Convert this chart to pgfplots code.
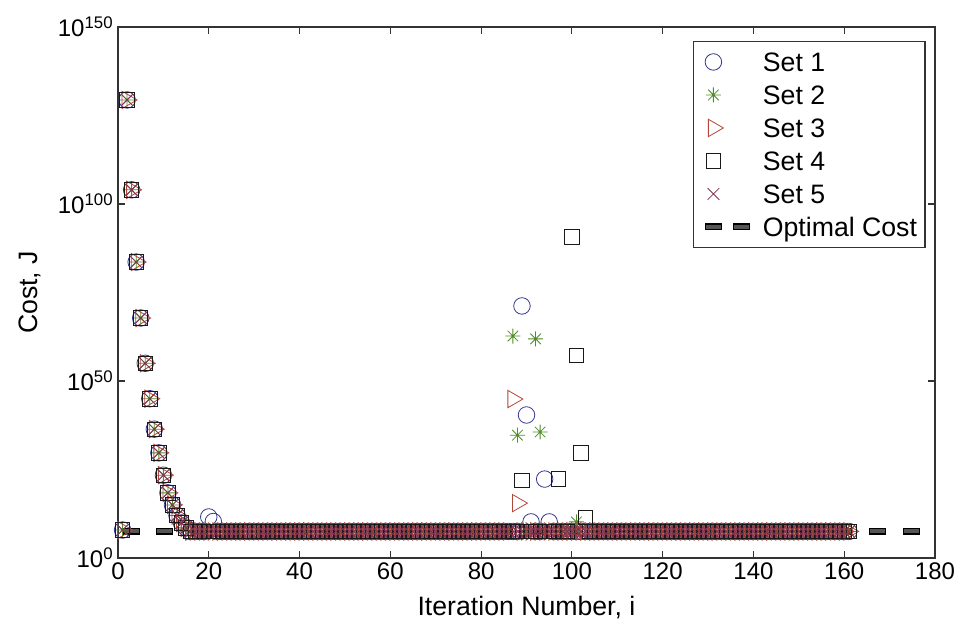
\documentclass[border=0pt]{standalone}
\usepackage{fontspec}
\setmainfont{Liberation Sans}
\usepackage{pgfplots}
\usepackage{pgfplotstable}
\pgfplotsset{compat=1.18}
\definecolor{cA}{RGB}{52,52,140}
\definecolor{cB}{RGB}{80,140,40}
\definecolor{cC}{RGB}{180,70,55}
\definecolor{cD}{RGB}{25,25,25}
\definecolor{cE}{RGB}{130,50,85}
\definecolor{optgray}{RGB}{85,85,85}
\pgfdeclareplotmark{mlstar}{%
 \pgfpathmoveto{\pgfqpoint{-\pgfplotmarksize}{0pt}}\pgfpathlineto{\pgfqpoint{\pgfplotmarksize}{0pt}}%
 \pgfpathmoveto{\pgfqpoint{0pt}{-\pgfplotmarksize}}\pgfpathlineto{\pgfqpoint{0pt}{\pgfplotmarksize}}%
 \pgfpathmoveto{\pgfqpoint{-.7071\pgfplotmarksize}{-.7071\pgfplotmarksize}}\pgfpathlineto{\pgfqpoint{.7071\pgfplotmarksize}{.7071\pgfplotmarksize}}%
 \pgfpathmoveto{\pgfqpoint{-.7071\pgfplotmarksize}{.7071\pgfplotmarksize}}\pgfpathlineto{\pgfqpoint{.7071\pgfplotmarksize}{-.7071\pgfplotmarksize}}%
 \pgfusepathqstroke}
\pgfplotsset{mlmark/.style={only marks, line width=0.6pt,
  legend image code/.code={\path (0pt,0pt) (34pt,0pt); \draw[mark repeat=2,mark phase=2,##1] plot coordinates {(0pt,0pt) (6pt,0pt) (12pt,0pt)};}}}

\pgfplotstableread{
x s1 s2 s3 s4 s5
1 8e7 8e7 8e7 8e7 8e7
2 2.5e129 2.5e129 2.5e129 2.5e129 2.5e129
3 1e104 1e104 1e104 1e104 1e104
4 4e83 4e83 4e83 4e83 4e83
5 6.3e67 6.3e67 6.3e67 6.3e67 6.3e67
6 1e55 1e55 1e55 1e55 1e55
7 1e45 1e45 1e45 1e45 1e45
8 2.5e36 2.5e36 2.5e36 2.5e36 2.5e36
9 5e29 5e29 5e29 5e29 5e29
10 2.5e23 2.5e23 2.5e23 2.5e23 2.5e23
11 2.5e18 2.5e18 2.5e18 2.5e18 2.5e18
12 1e15 1e15 1e15 1e15 1e15
13 1e12 1e12 1e12 1e12 1e12
14 8e9 8e9 8e9 8e9 8e9
15 3.2e8 3.2e8 3.2e8 3.2e8 3.2e8
16 3.2e7 3.2e7 3.2e7 3.2e7 3.2e7
17 3.2e7 3.2e7 3.2e7 3.2e7 3.2e7
18 3.2e7 3.2e7 3.2e7 3.2e7 3.2e7
19 3.2e7 3.2e7 3.2e7 3.2e7 3.2e7
20 4e11 3.2e7 3.2e7 3.2e7 3.2e7
21 2e10 3.2e7 3.2e7 3.2e7 3.2e7
22 3.2e7 3.2e7 3.2e7 3.2e7 3.2e7
23 3.2e7 3.2e7 3.2e7 3.2e7 3.2e7
24 3.2e7 3.2e7 3.2e7 3.2e7 3.2e7
25 3.2e7 3.2e7 3.2e7 3.2e7 3.2e7
26 3.2e7 3.2e7 3.2e7 3.2e7 3.2e7
27 3.2e7 3.2e7 3.2e7 3.2e7 3.2e7
28 3.2e7 3.2e7 3.2e7 3.2e7 3.2e7
29 3.2e7 3.2e7 3.2e7 3.2e7 3.2e7
30 3.2e7 3.2e7 3.2e7 3.2e7 3.2e7
31 3.2e7 3.2e7 3.2e7 3.2e7 3.2e7
32 3.2e7 3.2e7 3.2e7 3.2e7 3.2e7
33 3.2e7 3.2e7 3.2e7 3.2e7 3.2e7
34 3.2e7 3.2e7 3.2e7 3.2e7 3.2e7
35 3.2e7 3.2e7 3.2e7 3.2e7 3.2e7
36 3.2e7 3.2e7 3.2e7 3.2e7 3.2e7
37 3.2e7 3.2e7 3.2e7 3.2e7 3.2e7
38 3.2e7 3.2e7 3.2e7 3.2e7 3.2e7
39 3.2e7 3.2e7 3.2e7 3.2e7 3.2e7
40 3.2e7 3.2e7 3.2e7 3.2e7 3.2e7
41 3.2e7 3.2e7 3.2e7 3.2e7 3.2e7
42 3.2e7 3.2e7 3.2e7 3.2e7 3.2e7
43 3.2e7 3.2e7 3.2e7 3.2e7 3.2e7
44 3.2e7 3.2e7 3.2e7 3.2e7 3.2e7
45 3.2e7 3.2e7 3.2e7 3.2e7 3.2e7
46 3.2e7 3.2e7 3.2e7 3.2e7 3.2e7
47 3.2e7 3.2e7 3.2e7 3.2e7 3.2e7
48 3.2e7 3.2e7 3.2e7 3.2e7 3.2e7
49 3.2e7 3.2e7 3.2e7 3.2e7 3.2e7
50 3.2e7 3.2e7 3.2e7 3.2e7 3.2e7
51 3.2e7 3.2e7 3.2e7 3.2e7 3.2e7
52 3.2e7 3.2e7 3.2e7 3.2e7 3.2e7
53 3.2e7 3.2e7 3.2e7 3.2e7 3.2e7
54 3.2e7 3.2e7 3.2e7 3.2e7 3.2e7
55 3.2e7 3.2e7 3.2e7 3.2e7 3.2e7
56 3.2e7 3.2e7 3.2e7 3.2e7 3.2e7
57 3.2e7 3.2e7 3.2e7 3.2e7 3.2e7
58 3.2e7 3.2e7 3.2e7 3.2e7 3.2e7
59 3.2e7 3.2e7 3.2e7 3.2e7 3.2e7
60 3.2e7 3.2e7 3.2e7 3.2e7 3.2e7
61 3.2e7 3.2e7 3.2e7 3.2e7 3.2e7
62 3.2e7 3.2e7 3.2e7 3.2e7 3.2e7
63 3.2e7 3.2e7 3.2e7 3.2e7 3.2e7
64 3.2e7 3.2e7 3.2e7 3.2e7 3.2e7
65 3.2e7 3.2e7 3.2e7 3.2e7 3.2e7
66 3.2e7 3.2e7 3.2e7 3.2e7 3.2e7
67 3.2e7 3.2e7 3.2e7 3.2e7 3.2e7
68 3.2e7 3.2e7 3.2e7 3.2e7 3.2e7
69 3.2e7 3.2e7 3.2e7 3.2e7 3.2e7
70 3.2e7 3.2e7 3.2e7 3.2e7 3.2e7
71 3.2e7 3.2e7 3.2e7 3.2e7 3.2e7
72 3.2e7 3.2e7 3.2e7 3.2e7 3.2e7
73 3.2e7 3.2e7 3.2e7 3.2e7 3.2e7
74 3.2e7 3.2e7 3.2e7 3.2e7 3.2e7
75 3.2e7 3.2e7 3.2e7 3.2e7 3.2e7
76 3.2e7 3.2e7 3.2e7 3.2e7 3.2e7
77 3.2e7 3.2e7 3.2e7 3.2e7 3.2e7
78 3.2e7 3.2e7 3.2e7 3.2e7 3.2e7
79 3.2e7 3.2e7 3.2e7 3.2e7 3.2e7
80 3.2e7 3.2e7 3.2e7 3.2e7 3.2e7
81 3.2e7 3.2e7 3.2e7 3.2e7 3.2e7
82 3.2e7 3.2e7 3.2e7 3.2e7 3.2e7
83 3.2e7 3.2e7 3.2e7 3.2e7 3.2e7
84 3.2e7 3.2e7 3.2e7 3.2e7 3.2e7
85 3.2e7 3.2e7 3.2e7 3.2e7 3.2e7
86 3.2e7 3.2e7 3.2e7 3.2e7 3.2e7
87 3.2e7 5e62 8e44 3.2e7 3.2e7
88 3.2e7 5e34 3.2e15 3.2e7 3.2e7
89 1.6e71 3.2e7 3.2e7 1e22 3.2e7
90 2.5e40 3.2e7 3.2e7 3.2e7 3.2e7
91 1.6e10 3.2e7 3.2e7 3.2e7 3.2e7
92 3.2e7 8e61 3.2e7 3.2e7 3.2e7
93 3.2e7 4e35 3.2e7 3.2e7 3.2e7
94 2e22 3.2e7 3.2e7 3.2e7 3.2e7
95 1.6e10 3.2e7 3.2e7 3.2e7 3.2e7
96 3.2e7 3.2e7 3.2e7 3.2e7 3.2e7
97 3.2e7 3.2e7 3.2e7 2e22 3.2e7
98 3.2e7 3.2e7 3.2e7 3.2e7 3.2e7
99 3.2e7 3.2e7 3.2e7 3.2e7 3.2e7
100 3.2e7 3.2e7 3.2e7 5e90 3.2e7
101 3.2e7 1.6e10 3.2e7 2e57 3.2e7
102 3.2e7 3.2e7 3.2e7 5e29 3.2e7
103 3.2e7 3.2e7 3.2e7 3.2e11 3.2e7
104 3.2e7 3.2e7 3.2e7 3.2e7 3.2e7
105 3.2e7 3.2e7 3.2e7 3.2e7 3.2e7
106 3.2e7 3.2e7 3.2e7 3.2e7 3.2e7
107 3.2e7 3.2e7 3.2e7 3.2e7 3.2e7
108 3.2e7 3.2e7 3.2e7 3.2e7 3.2e7
109 3.2e7 3.2e7 3.2e7 3.2e7 3.2e7
110 3.2e7 3.2e7 3.2e7 3.2e7 3.2e7
111 3.2e7 3.2e7 3.2e7 3.2e7 3.2e7
112 3.2e7 3.2e7 3.2e7 3.2e7 3.2e7
113 3.2e7 3.2e7 3.2e7 3.2e7 3.2e7
114 3.2e7 3.2e7 3.2e7 3.2e7 3.2e7
115 3.2e7 3.2e7 3.2e7 3.2e7 3.2e7
116 3.2e7 3.2e7 3.2e7 3.2e7 3.2e7
117 3.2e7 3.2e7 3.2e7 3.2e7 3.2e7
118 3.2e7 3.2e7 3.2e7 3.2e7 3.2e7
119 3.2e7 3.2e7 3.2e7 3.2e7 3.2e7
120 3.2e7 3.2e7 3.2e7 3.2e7 3.2e7
121 3.2e7 3.2e7 3.2e7 3.2e7 3.2e7
122 3.2e7 3.2e7 3.2e7 3.2e7 3.2e7
123 3.2e7 3.2e7 3.2e7 3.2e7 3.2e7
124 3.2e7 3.2e7 3.2e7 3.2e7 3.2e7
125 3.2e7 3.2e7 3.2e7 3.2e7 3.2e7
126 3.2e7 3.2e7 3.2e7 3.2e7 3.2e7
127 3.2e7 3.2e7 3.2e7 3.2e7 3.2e7
128 3.2e7 3.2e7 3.2e7 3.2e7 3.2e7
129 3.2e7 3.2e7 3.2e7 3.2e7 3.2e7
130 3.2e7 3.2e7 3.2e7 3.2e7 3.2e7
131 3.2e7 3.2e7 3.2e7 3.2e7 3.2e7
132 3.2e7 3.2e7 3.2e7 3.2e7 3.2e7
133 3.2e7 3.2e7 3.2e7 3.2e7 3.2e7
134 3.2e7 3.2e7 3.2e7 3.2e7 3.2e7
135 3.2e7 3.2e7 3.2e7 3.2e7 3.2e7
136 3.2e7 3.2e7 3.2e7 3.2e7 3.2e7
137 3.2e7 3.2e7 3.2e7 3.2e7 3.2e7
138 3.2e7 3.2e7 3.2e7 3.2e7 3.2e7
139 3.2e7 3.2e7 3.2e7 3.2e7 3.2e7
140 3.2e7 3.2e7 3.2e7 3.2e7 3.2e7
141 3.2e7 3.2e7 3.2e7 3.2e7 3.2e7
142 3.2e7 3.2e7 3.2e7 3.2e7 3.2e7
143 3.2e7 3.2e7 3.2e7 3.2e7 3.2e7
144 3.2e7 3.2e7 3.2e7 3.2e7 3.2e7
145 3.2e7 3.2e7 3.2e7 3.2e7 3.2e7
146 3.2e7 3.2e7 3.2e7 3.2e7 3.2e7
147 3.2e7 3.2e7 3.2e7 3.2e7 3.2e7
148 3.2e7 3.2e7 3.2e7 3.2e7 3.2e7
149 3.2e7 3.2e7 3.2e7 3.2e7 3.2e7
150 3.2e7 3.2e7 3.2e7 3.2e7 3.2e7
151 3.2e7 3.2e7 3.2e7 3.2e7 3.2e7
152 3.2e7 3.2e7 3.2e7 3.2e7 3.2e7
153 3.2e7 3.2e7 3.2e7 3.2e7 3.2e7
154 3.2e7 3.2e7 3.2e7 3.2e7 3.2e7
155 3.2e7 3.2e7 3.2e7 3.2e7 3.2e7
156 3.2e7 3.2e7 3.2e7 3.2e7 3.2e7
157 3.2e7 3.2e7 3.2e7 3.2e7 3.2e7
158 3.2e7 3.2e7 3.2e7 3.2e7 3.2e7
159 3.2e7 3.2e7 3.2e7 3.2e7 3.2e7
160 3.2e7 3.2e7 3.2e7 3.2e7 3.2e7
161 3.2e7 3.2e7 3.2e7 3.2e7 3.2e7
}\costdata

\begin{document}
\begin{tikzpicture}
\useasboundingbox (-88.5pt,-48pt) rectangle (633pt,418.5pt);
\begin{axis}[
  scale only axis, width=612.75pt, height=398.25pt,
  ymode=log, xmin=0, xmax=180, ymin=1, ymax=1e150,
  xtick={0,20,...,180},
  ytick={1,1e50,1e100,1e150},
  yticklabels={10\textsuperscript{0},10\textsuperscript{50},10\textsuperscript{100},10\textsuperscript{150}},
  minor ytick={},
  tick align=inside, tick pos=both, major tick length=5.25pt,
  axis line style={draw=black!80, line width=0.9pt},
  tick style={draw=black!80, line width=0.9pt},
  font=\fontsize{20}{24}\selectfont,
  tick label style={font=\fontsize{18}{21.6}\selectfont},
  /pgf/number format/assume math mode=true,
  xlabel={Iteration Number, i}, ylabel={Cost, J},
  every axis x label/.style={at={(axis description cs:0.5,-0.1092)}, anchor=base},
  every axis y label/.style={at={(axis description cs:-0.0991,0.5)}, rotate=90, anchor=base},
  legend cell align=left,
  legend style={at={(0.9885,0.9736)}, anchor=north east, draw=black!80, line width=0.9pt,
    font=\fontsize{20}{24}\selectfont, inner xsep=6pt, inner ysep=6pt,
    nodes={inner xsep=0pt, inner ysep=0pt, text height=16.5pt, text depth=2pt},
    row sep=6.25pt, column sep=6.75pt},
]
\addplot[mlmark, mark=o, mark size=6.2pt, color=cA] table[x=x, y=s1] {\costdata};
\addlegendentry{Set 1}
\addplot[mlmark, mark=mlstar, mark size=5.6pt, color=cB] table[x=x, y=s2] {\costdata};
\addlegendentry{Set 2}
\addplot[mlmark, mark=triangle, mark size=7.5pt, mark options={rotate=-90}, color=cC] table[x=x, y=s3] {\costdata};
\addlegendentry{Set 3}
\addplot[mlmark, mark=square, mark size=5.4pt, color=cD] table[x=x, y=s4] {\costdata};
\addlegendentry{Set 4}
\addplot[mlmark, mark=x, mark size=6.2pt, color=cE] table[x=x, y=s5] {\costdata};
\addlegendentry{Set 5}
\addplot[black, line width=5.25pt, dash pattern=on 12.75pt off 12.7pt,
  legend image code/.code={\draw[black,line width=5.25pt,dash pattern=on 12.75pt off 8.25pt] (0pt,0pt)--(33.75pt,0pt);
    \draw[optgray,line width=3pt,dash pattern=on 11.25pt off 9.75pt,dash phase=20.25pt] (0pt,0pt)--(33.75pt,0pt);}]
  coordinates {(1,3.2e7) (176.6,3.2e7)};
\addlegendentry{Optimal Cost}
\addplot[optgray, line width=3pt, dash pattern=on 11.25pt off 14.2pt, dash phase=24.7pt, forget plot]
  coordinates {(1,3.2e7) (176.6,3.2e7)};
\end{axis}
\end{tikzpicture}
\end{document}
